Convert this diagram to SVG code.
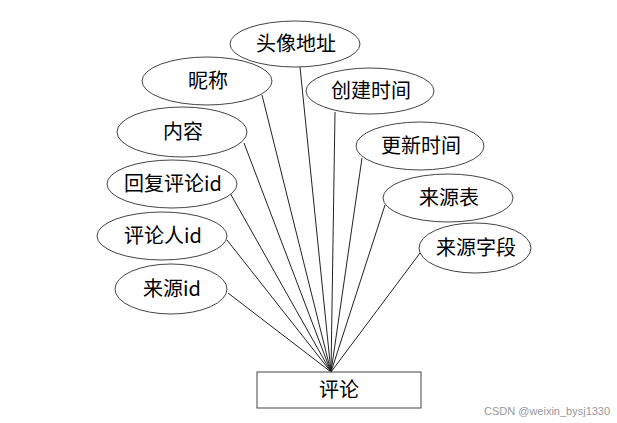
<svg xmlns="http://www.w3.org/2000/svg" width="617" height="423" viewBox="0 0 617 423">
<style>
.n ellipse{fill:#fff;stroke:#444;stroke-width:1}
.n rect{fill:#fff;stroke:#444;stroke-width:1}
.n text{font-family:"Noto Sans CJK SC","Liberation Sans",sans-serif;font-size:20px;fill:#000;text-anchor:middle}
#edges line{stroke:#222;stroke-width:1}
.wm{font-family:"Liberation Sans",sans-serif;font-size:11px;fill:#999}
</style>
<rect width="617" height="423" fill="#fff"/>
<g id="edges">
<line x1="300" y1="67" x2="331" y2="372"/>
<line x1="262" y1="95" x2="331" y2="372"/>
<line x1="244" y1="143" x2="331" y2="372"/>
<line x1="230" y1="193" x2="331" y2="372"/>
<line x1="227" y1="240" x2="331" y2="372"/>
<line x1="228" y1="293" x2="331" y2="372"/>
<line x1="335" y1="112" x2="331" y2="372"/>
<line x1="362" y1="158" x2="331" y2="372"/>
<line x1="385" y1="205" x2="331" y2="372"/>
<line x1="420" y1="253" x2="331" y2="372"/>
</g>
<g id="n_avatar" class="n"><ellipse cx="295" cy="44" rx="65" ry="23"/><text x="296" y="51">头像地址</text></g>
<g id="n_nick" class="n"><ellipse cx="207" cy="81" rx="65" ry="24"/><text x="208" y="88">昵称</text></g>
<g id="n_content" class="n"><ellipse cx="182" cy="132" rx="65" ry="25"/><text x="183" y="139">内容</text></g>
<g id="n_reply" class="n"><ellipse cx="172" cy="184" rx="65" ry="24"/><text x="173" y="191">回复评论id</text></g>
<g id="n_user" class="n"><ellipse cx="162" cy="236" rx="65" ry="24"/><text x="163" y="243">评论人id</text></g>
<g id="n_srcid" class="n"><ellipse cx="171" cy="289" rx="56" ry="25"/><text x="172" y="296">来源id</text></g>
<g id="n_created" class="n"><ellipse cx="370" cy="91" rx="64" ry="23"/><text x="371" y="98">创建时间</text></g>
<g id="n_updated" class="n"><ellipse cx="420" cy="146" rx="64" ry="24"/><text x="421" y="153">更新时间</text></g>
<g id="n_srctable" class="n"><ellipse cx="448" cy="198" rx="65" ry="24"/><text x="449" y="205">来源表</text></g>
<g id="n_srcfield" class="n"><ellipse cx="475" cy="248" rx="56" ry="25"/><text x="476" y="255">来源字段</text></g>
<g id="n_comment" class="n"><rect x="257" y="372" width="164" height="36"/><text x="339" y="397">评论</text></g>
<text class="wm" x="484" y="415">CSDN @weixin_bysj1330</text>
</svg>
